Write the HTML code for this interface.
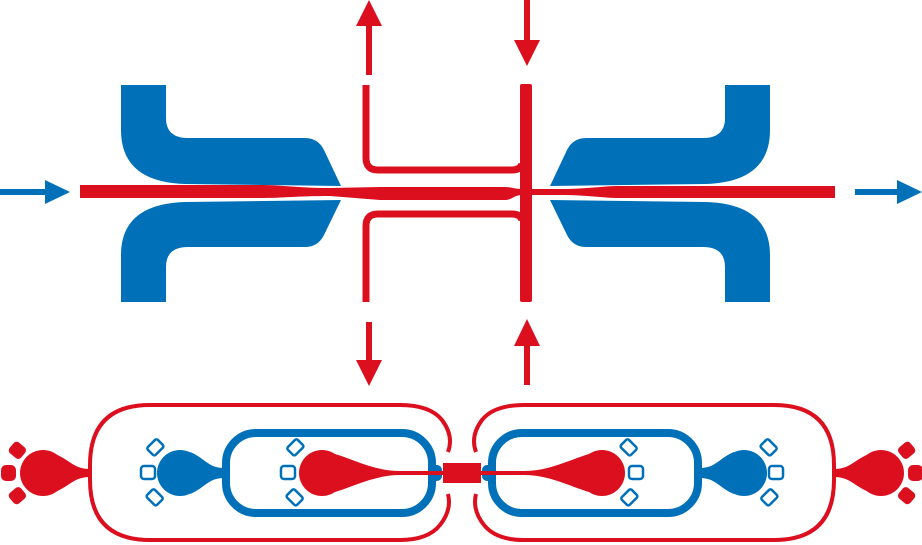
<!DOCTYPE html>
<html><head><style>html,body{margin:0;padding:0;background:#fff}svg{display:block}</style></head>
<body>
<svg width="922" height="545" viewBox="0 0 922 545" xmlns="http://www.w3.org/2000/svg">
<defs>
<g id="topHalf">
  <path fill="#0071b9" d="M121,85 L166,85 L166,118 Q166,138 188,138 L305,138 Q318,138 324,150 L341,186 L185,184 Q121,182 121,130 Z"/>
  <path fill="#0071b9" d="M121,302 L166,302 L166,267 Q166,247 188,247 L305,247 Q318,247 324,235 L341,200 L185,202 Q121,204 121,255 Z"/>
</g>
<g id="botHalf">
  <path fill="none" stroke="#dc0f1f" stroke-width="4" d="M448,494 Q452,510 440,525 Q428,540 400,540 L150,540 Q90,540 90,480 L90,465 Q90,405 150,405 L400,405 Q430,405 442,420 Q454,436 448,452"/>
  <rect x="226" y="433" width="206" height="80" rx="30" fill="none" stroke="#0071b9" stroke-width="8"/>
  <rect x="430" y="465" width="12" height="16" rx="5" fill="#0071b9"/>
  <circle cx="180" cy="473" r="23" fill="#0071b9"/>
  <path fill="#0071b9" d="M190,452 C205,458 208,468 224,468 L224,478 C208,478 205,488 190,494 Z"/>
  <circle cx="322" cy="473" r="23" fill="#dc0f1f"/>
  <path fill="#dc0f1f" d="M335,454 C355,460 375,471 400,471 L446,471 L446,475 L400,475 C375,475 355,486 335,492 Z"/>
  <circle cx="43" cy="473" r="23" fill="#dc0f1f"/>
  <path fill="#dc0f1f" d="M55,454 C70,460 74,469 90,469 L90,477 C74,477 70,486 55,492 Z"/>
  <rect x="1" y="465" width="15" height="16" rx="5" fill="#dc0f1f"/>
  <rect x="10" y="443" width="15" height="14" rx="4" fill="#dc0f1f" transform="rotate(40 17 450)"/>
  <rect x="10" y="489" width="15" height="14" rx="4" fill="#dc0f1f" transform="rotate(-40 17 496)"/>
  <g fill="none" stroke="#0071b9" stroke-width="2.5">
    <rect x="141" y="466" width="14" height="13" rx="3"/>
    <rect x="148" y="442" width="14" height="11" rx="2" transform="rotate(-45 155 447)"/>
    <rect x="148" y="492" width="14" height="11" rx="2" transform="rotate(45 155 497)"/>
    <rect x="281" y="466" width="14" height="13" rx="3"/>
    <rect x="288" y="442" width="14" height="11" rx="2" transform="rotate(-45 295 447)"/>
    <rect x="288" y="492" width="14" height="11" rx="2" transform="rotate(45 295 497)"/>
  </g>
</g>
</defs>
<use href="#topHalf"/>
<use href="#topHalf" transform="translate(891,0) scale(-1,1)"/>
<use href="#botHalf"/>
<use href="#botHalf" transform="translate(924,0) scale(-1,1)"/>
<rect x="443" y="463" width="38" height="20" fill="#dc0f1f"/>
<path fill="#dc0f1f" d="M80,185 L260,185 C285,185 295,188 330,188 L380,187 L505,187 C512,187 514,189 522,189 L560,189 C590,189 600,186 620,186 L835,186 L835,198 L620,198 C600,198 590,195 560,195 L522,195 C514,195 512,200 505,200 L380,200 L330,196 C295,196 285,198 260,198 L80,198 Z"/>
<path fill="none" stroke="#dc0f1f" stroke-width="7" d="M366,85 L366,158 Q366,170 378,170 L512,170 Q520,170 522,164 M366,302 L366,226 Q366,214 378,214 L512,214 Q520,214 522,220"/>
<rect x="520" y="84" width="12" height="218" rx="2" fill="#dc0f1f"/>
<g fill="#dc0f1f">
  <rect x="366" y="25" width="6" height="50"/><polygon points="369,0 356,26 382,26"/>
  <rect x="524" y="0" width="6" height="42"/><polygon points="514,40 540,40 527,66"/>
  <rect x="366" y="322" width="6" height="40"/><polygon points="356,360 382,360 369,386"/>
  <rect x="524" y="344" width="6" height="41"/><polygon points="527,319 514,346 540,346"/>
</g>
<g fill="#0071b9">
  <rect x="0" y="189" width="48" height="6"/><polygon points="45,180 45,204 70,192"/>
  <rect x="855" y="189" width="45" height="6"/><polygon points="897,180 897,204 922,192"/>
</g>
</svg>
</body></html>
